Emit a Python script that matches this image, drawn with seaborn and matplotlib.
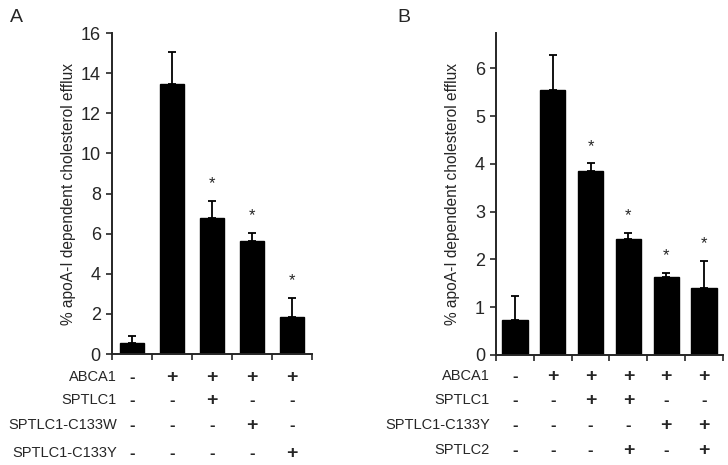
import numpy as np
import pandas as pd
import matplotlib
matplotlib.use("Agg")
import matplotlib.pyplot as plt
import matplotlib.transforms as mtrans
import seaborn as sns

# Panel A data
a_means = [0.56, 13.44, 6.78, 5.65, 1.83]
a_err = [0.35, 1.63, 0.83, 0.40, 0.98]
a_star = ["", "", "*", "*", "*"]
a_rows = ["ABCA1", "SPTLC1", "SPTLC1-C133W", "SPTLC1-C133Y"]
a_signs = [
    ["-", "+", "+", "+", "+"],
    ["-", "-", "+", "-", "-"],
    ["-", "-", "-", "+", "-"],
    ["-", "-", "-", "-", "+"],
]

# Panel B data
b_means = [0.73, 5.55, 3.86, 2.43, 1.63, 1.40]
b_err = [0.51, 0.74, 0.15, 0.12, 0.08, 0.57]
b_star = ["", "", "*", "*", "*", "*"]
b_rows = ["ABCA1", "SPTLC1", "SPTLC1-C133Y", "SPTLC2"]
b_signs = [
    ["-", "+", "+", "+", "+", "+"],
    ["-", "-", "+", "+", "-", "-"],
    ["-", "-", "-", "-", "+", "+"],
    ["-", "-", "-", "+", "-", "+"],
]

sns.set_style("ticks")
plt.rcParams["font.family"] = ["Liberation Sans", "DejaVu Sans"]

fig = plt.figure(figsize=(7.28, 4.65), dpi=100)
ax_a = fig.add_axes([0.1538, 0.2387, 0.2748, 0.6903])
ax_b = fig.add_axes([0.6813, 0.2366, 0.3117, 0.6924])


def draw_panel(ax, means, err, stars, rows, signs, ylim, yticks, width,
               row_y, label_x, star_pad):
    n = len(means)
    df = pd.DataFrame({"grp": [str(i) for i in range(n)], "val": means})
    sns.barplot(data=df, x="grp", y="val", color="black", width=width,
                errorbar=None, ax=ax, saturation=1, edgecolor="black")
    ax.errorbar(range(n), means, yerr=[np.zeros(n), err], fmt="none",
                ecolor="black", elinewidth=1.3, capsize=3, capthick=1.3)
    for i, s in enumerate(stars):
        if s:
            ax.annotate(s, (i, means[i] + err[i]), xytext=(0, star_pad),
                        textcoords="offset points", ha="center", va="bottom",
                        fontsize=12)
    ax.set_xlim(-0.5, n - 0.5)
    ax.set_ylim(*ylim)
    ax.set_yticks(yticks)
    ax.set_xticks(np.arange(n + 1) - 0.5)
    ax.set_xticklabels([])
    ax.set_xlabel("")
    ax.set_ylabel("% apoA-I dependent cholesterol efflux", fontsize=11.2)
    # same pixel distance from the axis line in both panels
    w_px = ax.get_position().width * fig.get_figwidth() * fig.dpi
    ax.yaxis.set_label_coords(-36 / w_px, 0.5)
    ax.tick_params(axis="y", labelsize=13, length=4, width=1.2, pad=4)
    ax.tick_params(axis="x", length=4, width=1.2)
    for sp in ["left", "bottom"]:
        ax.spines[sp].set_linewidth(1.4)
    sns.despine(ax=ax)
    tr = mtrans.blended_transform_factory(ax.transData, fig.transFigure)
    for r, (name, yy) in enumerate(zip(rows, row_y)):
        fig.text(label_x, yy, name, ha="right", va="center", fontsize=10.5)
        for i, s in enumerate(signs[r]):
            ax.text(i, yy, s, transform=tr, ha="center", va="center",
                    fontsize=14 if s == "+" else 12, fontweight="bold")


row_a = [1 - 377 / 465, 1 - 400 / 465, 1 - 425 / 465, 1 - 453 / 465]
row_b = [1 - 376 / 465, 1 - 400 / 465, 1 - 425 / 465, 1 - 450 / 465]

draw_panel(ax_a, a_means, a_err, a_star, a_rows, a_signs, (0, 16),
           range(0, 17, 2), 0.6, row_a, 117 / 728, 7)
draw_panel(ax_b, b_means, b_err, b_star, b_rows, b_signs, (0, 6.74),
           range(0, 7), 0.67, row_b, 490 / 728, 7)

fig.text(10 / 728, 1 - 18 / 465, "A", fontsize=14, va="center")
fig.text(397 / 728, 1 - 18 / 465, "B", fontsize=14, va="center")

fig.savefig("out.png", dpi=100)
